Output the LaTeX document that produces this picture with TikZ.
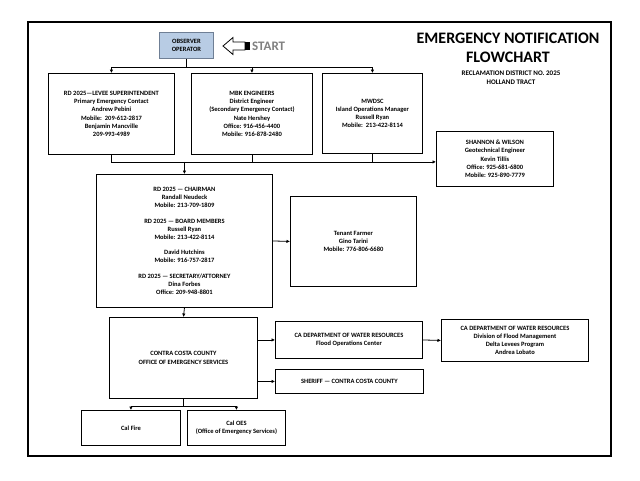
\documentclass[tikz,border=0pt]{standalone}
\usepackage{fontspec}
\setmainfont{Carlito}
\usetikzlibrary{arrows.meta}
\definecolor{obsfill}{HTML}{B8CCE4}
\definecolor{obsdraw}{HTML}{6F7F95}
\definecolor{startgray}{HTML}{808080}
\begin{document}
\begin{tikzpicture}[x=1pt,y=-1pt]
    \tikzstyle{arrow} = [-{Latex[length=3.5pt,width=3.5pt]}, line width=0.8pt]
    \tikzstyle{link} = [line width=0.8pt]
    \tikzstyle{rec} = [rectangle, draw=black, align=center, line width=0.9pt,
        inner sep=1pt, fill=white, font=\fontsize{6.5}{8.2}\selectfont\bfseries]

    \useasboundingbox (0,0) rectangle (640,480);
    \draw[line width=1.2pt] (28,22) rectangle (611,456);

    \node(title) [align=center, font=\fontsize{16}{19}\selectfont\bfseries]
        at (508,47.5)
        {EMERGENCY NOTIFICATION\\ FLOWCHART};
    \node(district) [align=center, font=\fontsize{7}{9}\selectfont\bfseries]
        at (511,77.5)
        {RECLAMATION DISTRICT NO. 2025\\ HOLLAND TRACT};

    \node(observer) [rec, fill=obsfill, draw=obsdraw, minimum width=54pt,
        minimum height=26pt]
        at (159,32) [anchor=north west]
        {OBSERVER\\ OPERATOR};
    \draw[line width=0.8pt, fill=white] (223,46) -- (233,37.5) -- (233,42)
        -- (245,42) -- (245,50) -- (233,50) -- (233,54.5) -- cycle;
    \fill (245,42) rectangle (250,50);
    \node(start) [anchor=west, inner sep=0pt, text=startgray,
        font=\fontsize{13}{13}\selectfont\bfseries]
        at (252,46.5)
        {START};

    \node(levee) [rec, minimum width=126pt, minimum height=81pt]
        at (48,73) [anchor=north west]
        {RD 2025---LEVEE SUPERINTENDENT\\ Primary Emergency Contact\\
        Andrew Pebini\\ Mobile:\ \ 209-612-2817\\ Benjamin Mancville\\
        209-993-4989};
    \node(mbk) [rec, minimum width=121pt, minimum height=81pt]
        at (191,73) [anchor=north west]
        {MBK ENGINEERS\\ District Engineer\\ (Secondary Emergency Contact)\\
        Nate Hershey\\ Office: 916-456-4400\\ Mobile: 916-878-2480};
    \node(mwdsc) [rec, minimum width=100pt, minimum height=80pt]
        at (322,73) [anchor=north west]
        {MWDSC\\ Island Operations Manager\\ Russell Ryan\\
        Mobile:\ \ 213-422-8114};
    \node(shannon) [rec, minimum width=117pt, minimum height=55pt]
        at (436,131) [anchor=north west]
        {SHANNON \& WILSON\\ Geotechnical Engineer\\ Kevin Tillis\\
        Office: 925-681-6800\\ Mobile: 925-890-7779};
    \node(board) [rec, minimum width=176pt, minimum height=133pt]
        at (96,174) [anchor=north west]
        {RD 2025 --- CHAIRMAN\\ Randall Neudeck\\ Mobile: 213-709-1809\\[7pt]
        RD 2025 --- BOARD MEMBERS\\ Russell Ryan\\ Mobile: 213-422-8114\\[7pt]
        David Hutchins\\ Mobile: 916-757-2817\\[7pt]
        RD 2025 --- SECRETARY/ATTORNEY\\ Dina Forbes\\ Office: 209-948-8801};
    \node(tenant) [rec, minimum width=126pt, minimum height=90pt]
        at (290,196) [anchor=north west]
        {Tenant Farmer\\ Gino Tarini\\ Mobile: 776-806-6680};
    \node(ccoes) [rec, minimum width=148pt, minimum height=81pt]
        at (109,317) [anchor=north west]
        {CONTRA COSTA COUNTY\\ OFFICE OF EMERGENCY SERVICES};
    \node(dwrfoc) [rec, minimum width=147pt, minimum height=37pt]
        at (275,321) [anchor=north west]
        {CA DEPARTMENT OF WATER RESOURCES\\ Flood Operations Center};
    \node(sheriff) [rec, minimum width=148pt, minimum height=24pt]
        at (275,369) [anchor=north west]
        {SHERIFF --- CONTRA COSTA COUNTY};
    \node(dwrdfm) [rec, minimum width=147pt, minimum height=42pt]
        at (441,319) [anchor=north west]
        {CA DEPARTMENT OF WATER RESOURCES\\ Division of Flood Management\\
        Delta Levees Program\\ Andrea Lobato};
    \node(calfire) [rec, minimum width=99pt, minimum height=35pt]
        at (81,410) [anchor=north west]
        {Cal Fire};
    \node(caloes) [rec, minimum width=98pt, minimum height=35pt]
        at (187,410) [anchor=north west]
        {Cal OES\\ (Office of Emergency Services)};

    \draw[link] (observer.south) -- ++(0,8) coordinate (obsfork);
    \draw[arrow] (obsfork) -| (levee.north);
    \draw[arrow] (obsfork) -| (mbk.north);
    \draw[arrow] (obsfork) -| (mwdsc.north);

    \draw[link] (levee.south) -- ++(0,7) coordinate (bus);
    \draw[link] (mbk.south) -- (mbk.south |- bus);
    \draw[link] (mwdsc.south) -- (mwdsc.south |- bus);
    \draw[arrow] (bus) -- (bus -| shannon.west);
    \draw[arrow] (bus -| board.north) -- (board.north);

    \draw[arrow] (board.east) -- (tenant.west);
    \draw[arrow] (board.south) -- (ccoes.north);
    \draw[arrow] (ccoes.east |- dwrfoc.west) -- (dwrfoc.west);
    \draw[arrow] (ccoes.east |- sheriff.west) -- (sheriff.west);
    \draw[arrow] (dwrfoc.east) -- (dwrdfm.west);

    \draw[link] (ccoes.south) -- ++(0,7) coordinate (oesfork);
    \draw[arrow] (oesfork) -| (calfire.north);
    \draw[arrow] (oesfork) -| (caloes.north);
\end{tikzpicture}
\end{document}
